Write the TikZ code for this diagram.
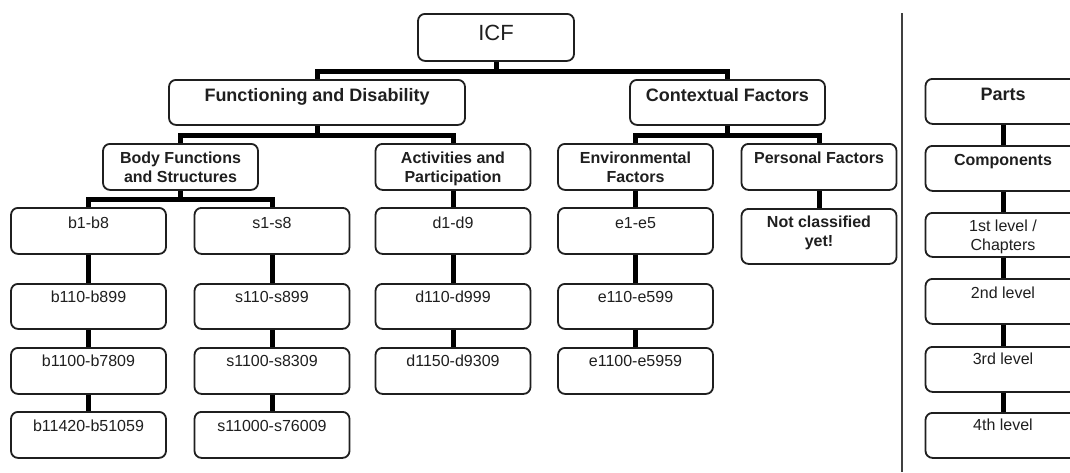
\documentclass[tikz,border=0pt]{standalone}
\usepackage{fontspec}
\setmainfont{Liberation Sans}
\usetikzlibrary{calc}
\tikzset{
  box/.style 2 args={draw=black!88, line width=1.8pt, rounded corners=7pt,
    minimum width=155pt, anchor=north, align=center, inner xsep=2pt, inner ysep=0pt,
    text height=#2, text depth=#1-#2, text=black!88,
    font=\fontsize{16}{18.5}\selectfont},
  bbox/.style 2 args={box={#1}{#2}, font=\fontsize{16}{18.5}\selectfont\bfseries},
  big/.style 2 args={box={#1}{#2}, font=\fontsize{18}{21}\selectfont\bfseries},
  conn/.style={line width=5pt, draw=black},
  sepline/.style={line width=2pt, draw=black!75},
}
\begin{document}
\begin{tikzpicture}[x=1pt,y=-1pt]
\useasboundingbox (0,0) rectangle (1070,472);
\fill[white] (0,0) rectangle (1070,472);
\clip (0,0) rectangle (1070,472);

% top levels
\node[box={47}{27}, font=\fontsize{22}{26}\selectfont, minimum width=156pt] (icf) at (496,13) {ICF};
\node[big={45}{21.4}, minimum width=296pt] (fd) at (317,79) {Functioning and Disability};
\node[big={45}{21.4}, minimum width=195pt] (cf) at (727.5,79) {Contextual Factors};

% two-line nodes: second argument = first baseline + 18.5
\node[bbox={46}{38.2}] (bf) at (180.5,143) {Body Functions\\and Structures};
\node[bbox={46}{38.2}] (ap) at (453,143) {Activities and\\Participation};
\node[bbox={46}{38.2}] (ef) at (635.5,143) {Environmental\\Factors};
\node[bbox={46}{19.7}] (pf) at (819,143) {Personal Factors};

% codes
\node[box={46}{20.5}] (b1) at (88.5,207) {b1-b8};
\node[box={46}{20.5}] (s1) at (272,207) {s1-s8};
\node[box={46}{20.5}] (d1) at (453,207) {d1-d9};
\node[box={46}{20.5}] (e1) at (635.5,207) {e1-e5};
\node[bbox={55}{37.2}] (nc) at (819,208) {Not classified\\yet!};

\node[box={45}{19}] (b2) at (88.5,283) {b110-b899};
\node[box={45}{19}] (s2) at (272,283) {s110-s899};
\node[box={45}{19}] (d2) at (453,283) {d110-d999};
\node[box={45}{19}] (e2) at (635.5,283) {e110-e599};

\node[box={46}{19}] (b3) at (88.5,347) {b1100-b7809};
\node[box={46}{19}] (s3) at (272,347) {s1100-s8309};
\node[box={46}{19}] (d3) at (453,347) {d1150-d9309};
\node[box={46}{19}] (e3) at (635.5,347) {e1100-e5959};

\node[box={46}{19.5}] (b4) at (88.5,411) {b11420-b51059};
\node[box={46}{19.5}] (s4) at (272,411) {s11000-s76009};

% right column
\node[big={45}{21.4}] (parts) at (1003,78) {Parts};
\node[bbox={45}{19.7}] (comp) at (1003,145) {Components};
\node[box={44}{37.2}] (l1) at (1003,212) {1st level /\\Chapters};
\node[box={45}{19.7}] (l2) at (1003,278) {2nd level};
\node[box={45}{18}] (l3) at (1003,346) {3rd level};
\node[box={45}{18}] (l4) at (1003,412) {4th level};

% separator
\coordinate (septop) at (902,13);
\coordinate (sepbot) at (902,472);
\draw[sepline] (septop) -- (sepbot);

% connectors
\draw[conn] (icf.south) -- ++(0,9.5) -| (fd.north);
\draw[conn] (icf.south) -- ++(0,9.5) -| (cf.north);
\draw[conn] (fd.south) -- ++(0,9.5) -| (bf.north);
\draw[conn] (fd.south) -- ++(0,9.5) -| (ap.north);
\draw[conn] (cf.south) -- ++(0,9.5) -| (ef.north);
\draw[conn] (cf.south) -- ++(0,9.5) -| (pf.north);
\draw[conn] (bf.south) -- ++(0,9) -| (b1.north);
\draw[conn] (bf.south) -- ++(0,9) -| (s1.north);
\draw[conn] (ap.south) -- (d1.north);
\draw[conn] (ef.south) -- (e1.north);
\draw[conn] (pf.south) -- (nc.north);
\draw[conn] (b1.south) -- (b2.north);
\draw[conn] (b2.south) -- (b3.north);
\draw[conn] (b3.south) -- (b4.north);
\draw[conn] (s1.south) -- (s2.north);
\draw[conn] (s2.south) -- (s3.north);
\draw[conn] (s3.south) -- (s4.north);
\draw[conn] (d1.south) -- (d2.north);
\draw[conn] (d2.south) -- (d3.north);
\draw[conn] (e1.south) -- (e2.north);
\draw[conn] (e2.south) -- (e3.north);
\draw[conn] (parts.south) -- (comp.north);
\draw[conn] (comp.south) -- (l1.north);
\draw[conn] (l1.south) -- (l2.north);
\draw[conn] (l2.south) -- (l3.north);
\draw[conn] (l3.south) -- (l4.north);
\end{tikzpicture}
\end{document}
